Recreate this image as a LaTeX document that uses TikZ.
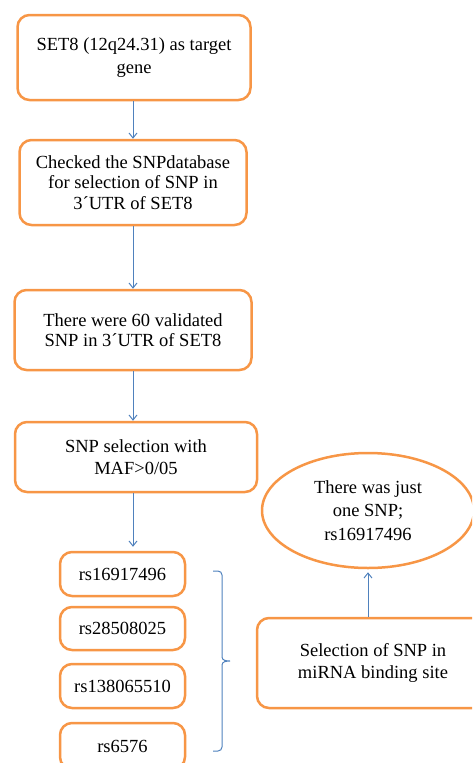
\documentclass[tikz,border=0pt]{standalone}
\usepackage{fontspec}
\setmainfont{Liberation Serif}
\usetikzlibrary{arrows.meta,shapes.geometric}
\definecolor{boxorange}{HTML}{F79646}
\definecolor{arrowblue}{HTML}{4F81BD}
\begin{document}
\begin{tikzpicture}[x=1pt,y=-1pt,
  box/.style={draw=boxorange,line width=2.5pt,rounded corners=12pt,align=center,
    font=\fontsize{18.5}{20.5}\selectfont,inner sep=0pt,fill=white},
  ell/.style={draw=boxorange,line width=2.5pt,ellipse,align=center,
    font=\fontsize{18.5}{23.5}\selectfont,inner sep=0pt},
  arr/.style={draw=arrowblue,line width=1pt,-{Straight Barb[length=5pt,width=8pt]}},
  brk/.style={draw=arrowblue,line width=1pt}]
\useasboundingbox (0,0) rectangle (472,763);
\clip (0,0) rectangle (472,763);
\node[box,minimum width=233pt,minimum height=85pt] (b1) at (134,57.5)
  {SET8 (12q24.31) as target\\[2pt]gene};
\node[box,minimum width=227pt,minimum height=85pt] (b2) at (133,182.5)
  {Checked the SNPdatabase\\for selection of SNP in\\3´UTR of SET8};
\node[box,minimum width=237pt,minimum height=80pt] (b3) at (133,330)
  {There were 60 validated\\SNP in 3´UTR of SET8};
\node[box,minimum width=242pt,minimum height=70pt] (b4) at (136,457)
  {SNP selection with\\[2pt]MAF>0/05};
\node[box,minimum width=125pt,minimum height=44pt] (s1) at (122.5,574) {rs16917496};
\node[box,minimum width=125pt,minimum height=43pt] (s2) at (122.5,628.5) {rs28508025};
\node[box,minimum width=125pt,minimum height=44pt] (s3) at (122.5,686) {rs138065510};
\node[box,minimum width=125pt,minimum height=46pt] (s4) at (122.5,746) {rs6576};
\node[box,minimum width=232pt,minimum height=90pt] (sel) at (373,663)
  {Selection of SNP in\\[2pt]miRNA binding site};
\node[ell,minimum width=212pt,minimum height=115pt] (res) at (368,510.5)
  {There was just\\one SNP;\\rs16917496};
\coordinate (ax) at (133,0);
\draw[arr] (b1.south -| ax) -- (b2.north -| ax);
\draw[arr] (b2.south -| ax) -- (b3.north -| ax);
\draw[arr] (b3.south -| ax) -- (b4.north -| ax);
\draw[arr,shorten >=4pt] (b4.south -| ax) -- (s1.north -| ax);
\draw[arr,shorten >=3pt] (sel.north -| res.south) -- (res.south);
\coordinate (bt) at (213,571);
\coordinate (bb) at (213,751);
\coordinate (bm) at (230,661);
\draw[brk] (bt) -- (218,571) to[out=0,in=90] (222,575) -- (222,657)
  to[out=270,in=180] (bm) to[out=180,in=90] (222,665) -- (222,747)
  to[out=270,in=0] (218,751) -- (bb);
\end{tikzpicture}
\end{document}
